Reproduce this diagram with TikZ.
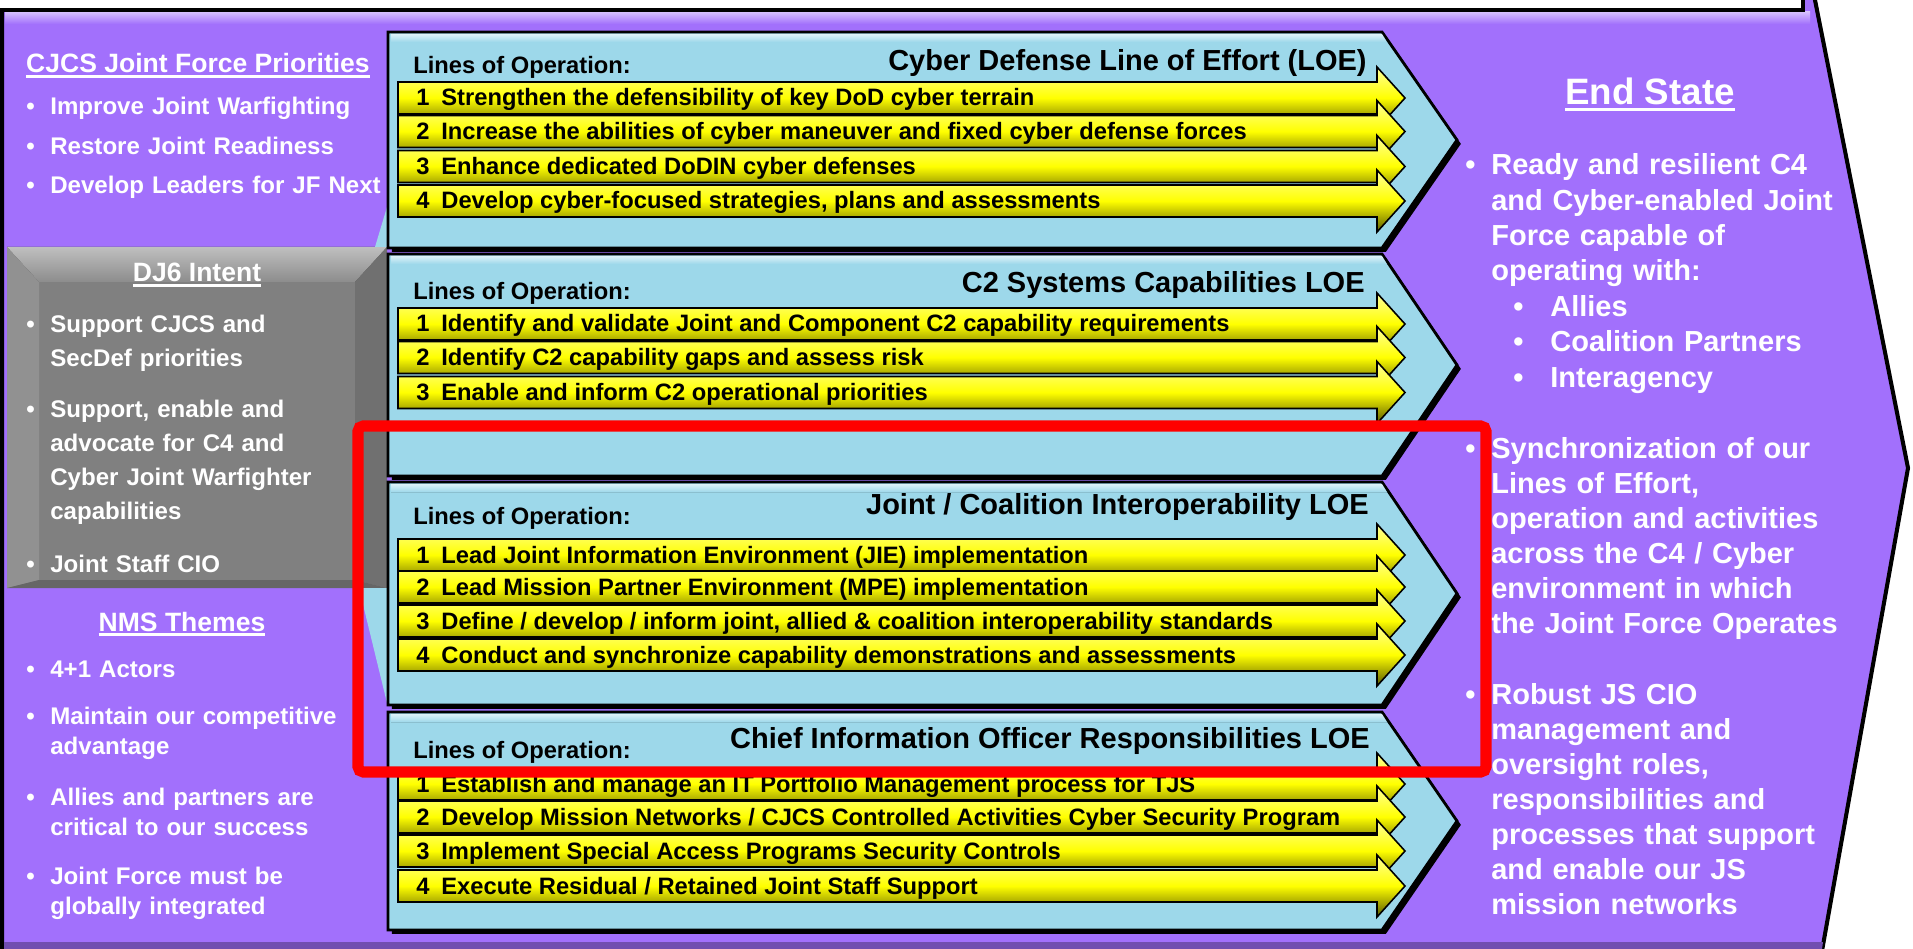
\documentclass[tikz,border=0pt]{standalone}
\usepackage{fontspec}
\setmainfont{Liberation Sans}
\usetikzlibrary{shadows}

\definecolor{loepurple}{RGB}{162,112,252}
\definecolor{loecyan}{RGB}{157,216,234}
\definecolor{panelgray}{RGB}{128,128,128}

% underlined heading with a heavier rule
\newcommand{\uhead}[1]{\setbox0\hbox{#1}\rlap{\rule[-0.17em]{\wd0}{0.085em}}\box0}

\begin{document}
\begin{tikzpicture}[x=0.02cm, y=-0.02cm]
    % Define styles
    \tikzset{
        panelbg/.style={draw=black, line width=2.3pt, fill=loepurple},
        loechevron/.style={draw=black, line width=1.6pt, fill=loecyan, drop shadow={shadow xshift=2.2pt, shadow yshift=-2.2pt, fill=black, opacity=1}},
        loearrow/.style={draw=black, line width=0.9pt, top color=yellow!40!white, bottom color=yellow!35!black, middle color=yellow},
        loetitle/.style={font=\fontsize{16.5}{19}\selectfont\bfseries, inner sep=0pt, anchor=base east},
        loolabel/.style={font=\fontsize{13.5}{16}\selectfont\bfseries, inner sep=0pt, anchor=base west},
        loerow/.style={font=\fontsize{13.5}{16}\selectfont\bfseries, inner sep=0pt, anchor=base west},
        sidehead/.style={font=\fontsize{15.1}{18}\selectfont\bfseries, text=white, inner sep=0pt, anchor=base},
        sidebullet/.style={font=\fontsize{13.7}{16}\selectfont\bfseries, text=white, inner sep=0pt, anchor=base west},
        sideitem/.style={font=\fontsize{13.7}{19.35}\selectfont\bfseries, text=white, inner sep=0pt, anchor=base west, text width=7cm, align=left},
        nmsitem/.style={sideitem, font=\fontsize{13.7}{17.6}\selectfont\bfseries},
        endhead/.style={font=\fontsize{20.9}{24}\selectfont\bfseries, text=white, inner sep=0pt, anchor=base},
        endbullet/.style={font=\fontsize{16.5}{20}\selectfont\bfseries, text=white, inner sep=0pt, anchor=base west},
        enditem/.style={font=\fontsize{16.5}{20}\selectfont\bfseries, text=white, inner sep=0pt, anchor=base west, text width=8cm, align=left},
        focusbox/.style={draw=red, line width=6.3pt, rounded corners=3pt}
    }
    \useasboundingbox (0,0) rectangle (1913,949);

    % Background panel
    \draw[panelbg] (2,-20) -- (1811,-20) -- (1908,468) -- (1820,962) -- (2,962) -- cycle;
    \fill[top color=loepurple!45!white, bottom color=loepurple] (5,12) rectangle (1810,24);
    \fill[loepurple!70!black] (4,942) -- (1823,942) -- (1822,949) -- (4,949) -- cycle;
    \draw[fill=white, line width=2.3pt] (-10,-30) rectangle (1803,10);

    % DJ6 box
    \fill[panelgray] (7,247) rectangle (387,588);
    \fill[top color=black!25, bottom color=black!45] (7,247) -- (387,247) -- (355,282) -- (39,282) -- cycle;
    \fill[black!43] (7,247) -- (39,282) -- (39,580) -- (7,588) -- cycle;
    \fill[black!56] (387,247) -- (355,282) -- (355,580) -- (387,588) -- cycle;
    \fill[black!60] (7,588) -- (39,580) -- (355,580) -- (387,588) -- cycle;

    % Chevron edges showing beside the side column
    \fill[loecyan] (375,247) -- (387,207) -- (387,247) -- cycle;
    \fill[loecyan] (359,588) -- (387,588) -- (387,703) -- cycle;

    % LOE chevrons
    \foreach \t/\b in {32/248, 254/476, 482/705, 712/930} {
        \draw[loechevron] (388,\t) -- (1382,\t) -- (1457,{(\t+\b)/2}) -- (1382,\b) -- (388,\b) -- cycle;
        \fill[top color=loecyan!35!white, bottom color=loecyan] (391,\t+2) -- (1382,\t+2) -- (1387,\t+10) -- (391,\t+10) -- cycle;
    }

    % Yellow arrows
    \foreach \y in {98,131.5,166.5,201, 324,357.5,392.5, 555,587,621,655, 784,817,851,886} {
        \draw[loearrow] (398,\y-16) -- (1377,\y-16) -- (1377,\y-31) -- (1405,\y) -- (1377,\y+31) -- (1377,\y+16) -- (398,\y+16) -- cycle;
    }

    % Cyber Defense LOE
    \node[loolabel] (loo1) at (413,74) {Lines of Operation:};
    \node[loetitle] (cdtitle) at (1367,71) {Cyber Defense Line of Effort (LOE)};
    \node[loerow] (cd1) at (416,106) {1\enskip Strengthen the defensibility of key DoD cyber terrain};
    \node[loerow] (cd2) at (416,139.5) {2\enskip Increase the abilities of cyber maneuver and fixed cyber defense forces};
    \node[loerow] (cd3) at (416,174.5) {3\enskip Enhance dedicated DoDIN cyber defenses};
    \node[loerow] (cd4) at (416,209) {4\enskip Develop cyber-focused strategies, plans and assessments};

    % C2 Systems Capabilities LOE
    \node[loolabel] (loo2) at (413,300) {Lines of Operation:};
    \node[loetitle] (c2title) at (1365,293) {C2 Systems Capabilities LOE};
    \node[loerow] (c2s1) at (416,332) {1\enskip Identify and validate Joint and Component C2 capability requirements};
    \node[loerow] (c2s2) at (416,365.5) {2\enskip Identify C2 capability gaps and assess risk};
    \node[loerow] (c2s3) at (416,400.5) {3\enskip Enable and inform C2 operational priorities};

    % Joint / Coalition Interoperability LOE
    \node[loolabel] (loo3) at (413,524) {Lines of Operation:};
    \node[loetitle] (jcititle) at (1369,514) {Joint / Coalition Interoperability LOE};
    \node[loerow] (jci1) at (416,563) {1\enskip Lead Joint Information Environment (JIE) implementation};
    \node[loerow] (jci2) at (416,595) {2\enskip Lead Mission Partner Environment (MPE) implementation};
    \node[loerow] (jci3) at (416,629) {3\enskip Define / develop / inform joint, allied \& coalition interoperability standards};
    \node[loerow] (jci4) at (416,663) {4\enskip Conduct and synchronize capability demonstrations and assessments};

    % Chief Information Officer Responsibilities LOE
    \node[loolabel] (loo4) at (413,758) {Lines of Operation:};
    \node[loetitle] (ciotitle) at (1370,748) {Chief Information Officer Responsibilities LOE};
    \node[loerow] (cio1) at (416,792) {1\enskip Establish and manage an IT Portfolio Management process for TJS};
    \node[loerow] (cio2) at (416,825) {2\enskip Develop Mission Networks / CJCS Controlled Activities Cyber Security Program};
    \node[loerow] (cio3) at (416,859) {3\enskip Implement Special Access Programs Security Controls};
    \node[loerow] (cio4) at (416,894) {4\enskip Execute Residual / Retained Joint Staff Support};

    % CJCS Joint Force Priorities
    \node[sidehead] (cjcshead) at (198,73) {\uhead{CJCS Joint Force Priorities}};
    \foreach \y [count=\i] in {115,155,194}
        \node[sidebullet] (cjcsb\i) at (26,\y) {\textbullet};
    \node[sideitem] (cjcs1) at (50,115) {Improve Joint Warfighting};
    \node[sideitem] (cjcs2) at (50,155) {Restore Joint Readiness};
    \node[sideitem] (cjcs3) at (50,194) {Develop Leaders for JF Next};

    % DJ6 Intent
    \node[sidehead] (dj6head) at (197,282) {\uhead{DJ6 Intent}};
    \foreach \y [count=\i] in {333,418,572}
        \node[sidebullet] (dj6b\i) at (26,\y) {\textbullet};
    \node[sideitem] (dj61) at (50,333) {Support CJCS and\\SecDef priorities};
    \node[sideitem] (dj62) at (50,418) {Support, enable and\\advocate for C4 and\\Cyber Joint Warfighter\\capabilities};
    \node[sideitem] (dj63) at (50,572) {Joint Staff CIO};

    % NMS Themes
    \node[sidehead] (nmshead) at (182,631) {\uhead{NMS Themes}};
    \foreach \y [count=\i] in {677,724,805,884}
        \node[sidebullet] (nmsb\i) at (26,\y) {\textbullet};
    \node[nmsitem] (nms1) at (50,677) {4+1 Actors};
    \node[nmsitem] (nms2) at (50,724) {Maintain our competitive\\advantage};
    \node[nmsitem] (nms3) at (50,805) {Allies and partners are\\critical to our success};
    \node[nmsitem] (nms4) at (50,884) {Joint Force must be\\globally integrated};

    % End State
    \node[endhead] (endhead) at (1650,105) {\uhead{End State}};
    \foreach \y [count=\i] in {175,458,704}
        \node[endbullet] (endb\i) at (1465,\y) {\textbullet};
    \node[enditem] (end1) at (1491,175) {Ready and resilient C4\\and Cyber-enabled Joint\\Force capable of\\operating with:};
    \foreach \y [count=\i] in {317,352,387}
        \node[endbullet] (subb\i) at (1513,\y) {\textbullet};
    \node[enditem] (sub1) at (1550,317) {Allies};
    \node[enditem] (sub2) at (1550,352) {Coalition Partners};
    \node[enditem] (sub3) at (1550,387) {Interagency};
    \node[enditem] (end2) at (1491,458) {Synchronization of our\\Lines of Effort,\\operation and activities\\across the C4 / Cyber\\environment in which\\the Joint Force Operates};
    \node[enditem] (end3) at (1491,704) {Robust JS CIO\\management and\\oversight roles,\\responsibilities and\\processes that support\\and enable our JS\\mission networks};

    % Highlight frame
    \draw[focusbox] (358,426) rectangle (1486,772);

\end{tikzpicture}
\end{document}
